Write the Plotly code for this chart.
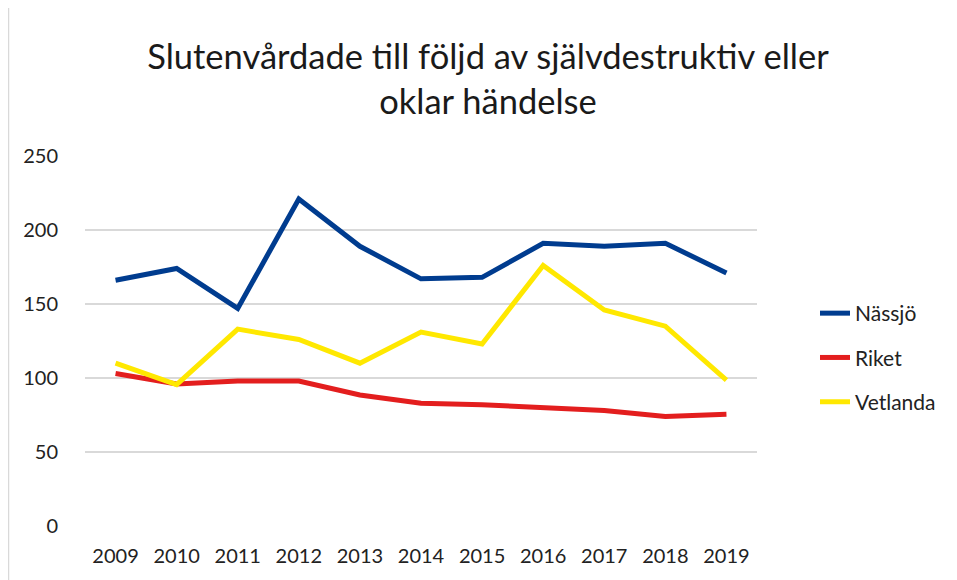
import plotly.graph_objects as go

years = ["2009", "2010", "2011", "2012", "2013", "2014", "2015", "2016", "2017", "2018", "2019"]
nassjo = [166, 174, 147, 221, 189, 167, 168, 191, 189, 191, 171]
riket = [103, 96, 98, 98, 88.5, 83, 82, 80, 78, 74, 75.5]
vetlanda = [110, 95.5, 133, 126, 110, 131, 123, 176, 146, 135, 98.5]

series = [("Nässjö", nassjo, "#003C8F"), ("Riket", riket, "#E31E1E"), ("Vetlanda", vetlanda, "#FFE800")]

FONT = "Lato"
fig = go.Figure()
for name, vals, col in series:
    fig.add_trace(go.Scatter(x=years, y=vals, name=name, mode="lines",
                             line=dict(color=col, width=5), legendgroup=name))

# the page body has an 8px margin; compensate so the chart lands where the reference has it
OFF = 8
W, H = 957, 580
pw, ph = 672, 370
L, T = 85 - OFF, 156 - OFF
R, B = W - L - pw, H - T - ph

fig.update_layout(
    width=W, height=H,
    margin=dict(l=L, r=R, t=T, b=B),
    paper_bgcolor="white", plot_bgcolor="white",
    font=dict(family=FONT, size=20, color="#222222"),
    title=dict(text="Slutenvårdade till följd av självdestruktiv eller<br>oklar händelse",
               x=(488 - OFF) / W, xref="container", xanchor="center",
               y=1 - 61 / H, yanchor="middle",
               font=dict(family=FONT, size=34.5, color="#1a1a1a")),
    showlegend=True,
    legend=dict(x=(815 - OFF - L) / pw, xanchor="left", y=(T + ph - (293 - OFF)) / ph, yanchor="top",
                yref="paper", font=dict(family=FONT, size=21, color="#222222"),
                tracegroupgap=14, bgcolor="rgba(0,0,0,0)"),
)
fig.update_xaxes(type="category", range=[-0.5, len(years) - 0.5],
                 showgrid=False, showline=False, zeroline=False,
                 ticks="outside", ticklen=12, tickcolor="rgba(0,0,0,0)",
                 tickfont=dict(family=FONT, size=20, color="#222222"))
fig.update_yaxes(range=[0, 250], tickvals=[0, 50, 100, 150, 200, 250],
                 showgrid=True, gridcolor="#D9D9D9", gridwidth=2, zeroline=False,
                 showline=False, ticks="outside", ticklen=22, tickcolor="rgba(0,0,0,0)",
                 tickfont=dict(family=FONT, size=20, color="#222222"))
fig.add_shape(type="line", xref="paper", yref="paper",
              x0=(0.5 - L) / pw, x1=(0.5 - L) / pw, y0=-B / ph, y1=(ph + T) / ph,
              line=dict(color="#D9D9D9", width=1.5))
fig.write_html("out.html")
